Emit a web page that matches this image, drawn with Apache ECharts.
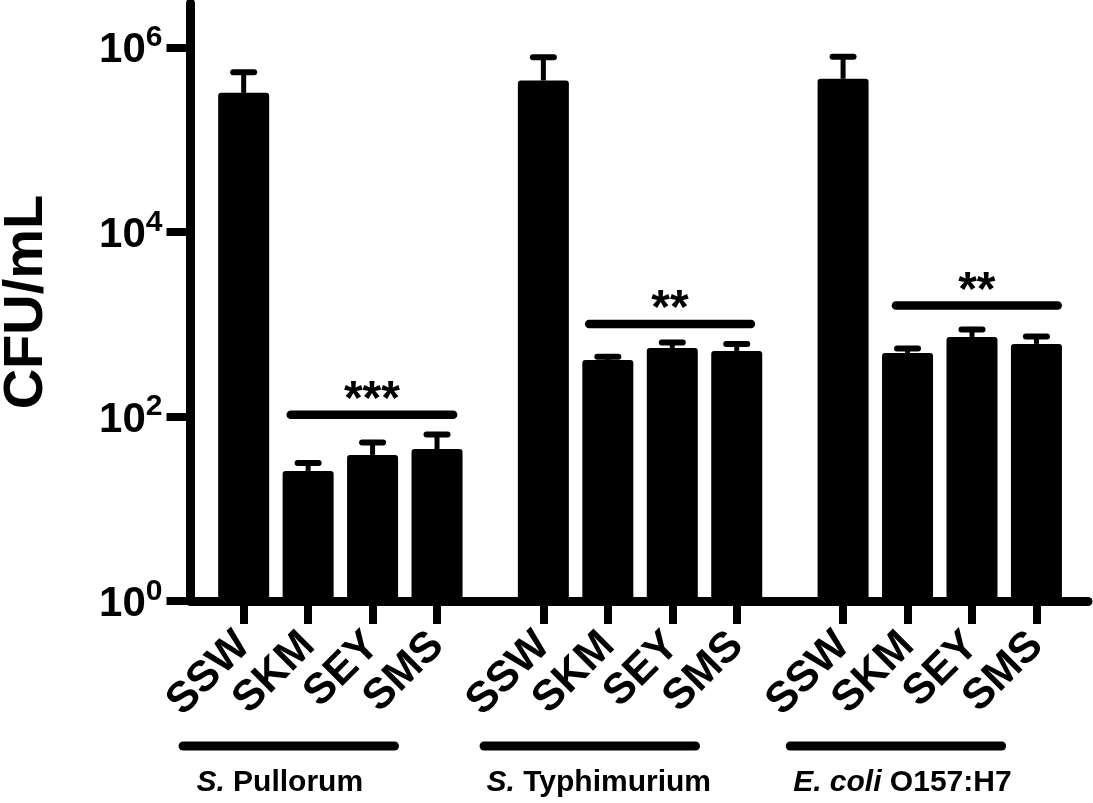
<!DOCTYPE html>
<html>
<head>
<meta charset="utf-8">
<script src="https://cdn.jsdelivr.net/npm/echarts@6/dist/echarts.min.js"></script>
<style>
  html, body { margin: 0; padding: 0; background: #fff; }
  #chart { width: 1093px; height: 803px; }
</style>
</head>
<body>
<div id="chart"></div>
<script>
// Data (CFU/mL)
const strains = ['SSW', 'SKM', 'SEY', 'SMS'];
const groupItalic = ['S.', 'S.', 'E. coli'];
const groupRest = ['Pullorum', 'Typhimurium', 'O157:H7'];
const meanPullorum = [321000, 25.7, 38.3, 44.4];
const meanTyphimurium = [437000, 410, 553, 513];
const meanEcoli = [456000, 488, 727, 611];
const sdPullorum = [215000, 5.6, 14, 19.4];
const sdTyphimurium = [343000, 32, 81, 98];
const sdEcoli = [333000, 58, 150, 125];
const yTicks = [1, 100, 10000, 1000000];
const sigText = ['***', '**', '**'];
const sigLevel = [104, 1004, 1592];

// layout
const GAP = 0.65;
const sigFrom = [0.73, 0.71, 0.82];
const sigTo = [3.25, 3.22, 3.33];
const underlineShift = [0.70, 0.72, 0.82];
const labelShift = [0.56, 0.86, 0.92];
const FONT = '"Liberation Sans", Arial, Helvetica, sans-serif';

const means = [meanPullorum, meanTyphimurium, meanEcoli];
const sds = [sdPullorum, sdTyphimurium, sdEcoli];

function groupStart(g) { return g * (strains.length + GAP); }

let positions = [];
let names = [];
let barData = [];
let errData = [];
means.forEach((vals, g) => {
    vals.forEach((v, i) => {
        let x = groupStart(g) + i;
        positions.push(x);
        names.push(strains[i]);
        barData.push([x, v]);
        errData.push([x, v, v + sds[g][i]]);
    });
});

let sigData = sigText.map((t, g) => [groupStart(g) + sigFrom[g], groupStart(g) + sigTo[g], sigLevel[g], g]);
let groupData = groupRest.map((t, g) => [groupStart(g) + underlineShift[g], groupStart(g) + labelShift[g], g]);

let chart = echarts.init(document.getElementById('chart'));

let option = {
    animation: false,
    backgroundColor: '#fff',
    grid: { left: 190.5, right: 5, top: 3, bottom: 202, containLabel: false, outerBoundsMode: 'none' },
    xAxis: {
        type: 'value',
        min: -0.825,
        max: 13.1,
        splitLine: { show: false },
        axisLine: { show: true, onZero: false, lineStyle: { color: '#000', width: 9 } },
        axisTick: { show: true, customValues: positions, length: 23, lineStyle: { color: '#000', width: 8 } },
        axisLabel: {
            show: true,
            customValues: positions,
            rotate: 45,
            margin: 38,
            hideOverlap: false,
            color: '#000',
            fontFamily: FONT,
            fontWeight: 'bold',
            fontSize: 43,
            formatter: function (v) {
                let k = positions.findIndex(p => Math.abs(p - v) < 0.01);
                return k >= 0 ? names[k] : '';
            }
        }
    },
    yAxis: {
        type: 'log',
        logBase: 10,
        min: 1,
        max: 3020000,
        name: 'CFU/mL',
        nameLocation: 'middle',
        nameRotate: 90,
        nameGap: 164,
        nameTextStyle: { color: '#000', fontFamily: FONT, fontWeight: 'bold', fontSize: 56, verticalAlign: 'middle' },
        splitLine: { show: false },
        axisLine: { show: true, onZero: false, lineStyle: { color: '#000', width: 9 } },
        axisTick: { show: true, customValues: yTicks, length: 24, lineStyle: { color: '#000', width: 8 } },
        axisLabel: {
            show: true,
            customValues: yTicks,
            margin: 28,
            hideOverlap: false,
            padding: [7, 0, 0, 0],
            formatter: function (v) {
                return '{b|10}{s|' + Math.round(Math.log10(v)) + '}';
            },
            rich: {
                b: { fontFamily: FONT, fontWeight: 'bold', fontSize: 42, lineHeight: 56, color: '#000' },
                s: { fontFamily: FONT, fontWeight: 'bold', fontSize: 30, lineHeight: 30, verticalAlign: 'top', color: '#000' }
            }
        }
    },
    series: [
        {
            type: 'bar',
            data: barData,
            barWidth: 51,
            itemStyle: { color: '#000', borderRadius: [3, 3, 0, 0] },
            z: 2
        },
        {
            type: 'custom',
            data: errData,
            clip: false,
            z: 3,
            renderItem: function (params, api) {
                let x = api.value(0);
                let p0 = api.coord([x, api.value(1)]);
                let p1 = api.coord([x, api.value(2)]);
                return {
                    type: 'group',
                    children: [
                        { type: 'line', shape: { x1: p0[0], y1: p0[1], x2: p1[0], y2: p1[1] }, style: { stroke: '#000', lineWidth: 5 } },
                        { type: 'line', shape: { x1: p1[0] - 10.5, y1: p1[1], x2: p1[0] + 10.5, y2: p1[1] }, style: { stroke: '#000', lineWidth: 6, lineCap: 'round' } }
                    ]
                };
            }
        },
        {
            type: 'custom',
            data: sigData,
            clip: false,
            z: 3,
            renderItem: function (params, api) {
                let a = api.coord([api.value(0), api.value(2)]);
                let b = api.coord([api.value(1), api.value(2)]);
                let g = api.value(3);
                return {
                    type: 'group',
                    children: [
                        { type: 'line', shape: { x1: a[0], y1: a[1], x2: b[0], y2: b[1] }, style: { stroke: '#000', lineWidth: 8.5, lineCap: 'round' } },
                        { type: 'text', style: { text: sigText[g], x: (a[0] + b[0]) / 2, y: a[1] - 14, align: 'center', verticalAlign: 'middle', fill: '#000', font: 'bold 48px ' + FONT } }
                    ]
                };
            }
        },
        {
            type: 'custom',
            data: groupData,
            clip: false,
            z: 3,
            renderItem: function (params, api) {
                let g = api.value(2);
                let c = api.coord([api.value(0), 1]);
                let l = api.coord([api.value(0) - 1.71, 1]);
                let r = api.coord([api.value(0) + 1.71, 1]);
                let t = api.coord([api.value(1), 1]);
                return {
                    type: 'group',
                    children: [
                        { type: 'line', shape: { x1: l[0] + 4.5, y1: c[1] + 145, x2: r[0] - 4.5, y2: c[1] + 145 }, style: { stroke: '#000', lineWidth: 9, lineCap: 'round' } },
                        {
                            type: 'text',
                            style: {
                                text: '{i|' + groupItalic[g] + '}{n| ' + groupRest[g] + '}',
                                x: t[0], y: c[1] + 182,
                                align: 'center', verticalAlign: 'middle',
                                rich: {
                                    i: { fontFamily: FONT, fontWeight: 'bold', fontStyle: 'italic', fontSize: 30, fill: '#000' },
                                    n: { fontFamily: FONT, fontWeight: 'bold', fontSize: 30, fill: '#000' }
                                }
                            }
                        }
                    ]
                };
            }
        }
    ]
};

chart.setOption(option);
window.onresize = () => chart.resize();
</script>
</body>
</html>
